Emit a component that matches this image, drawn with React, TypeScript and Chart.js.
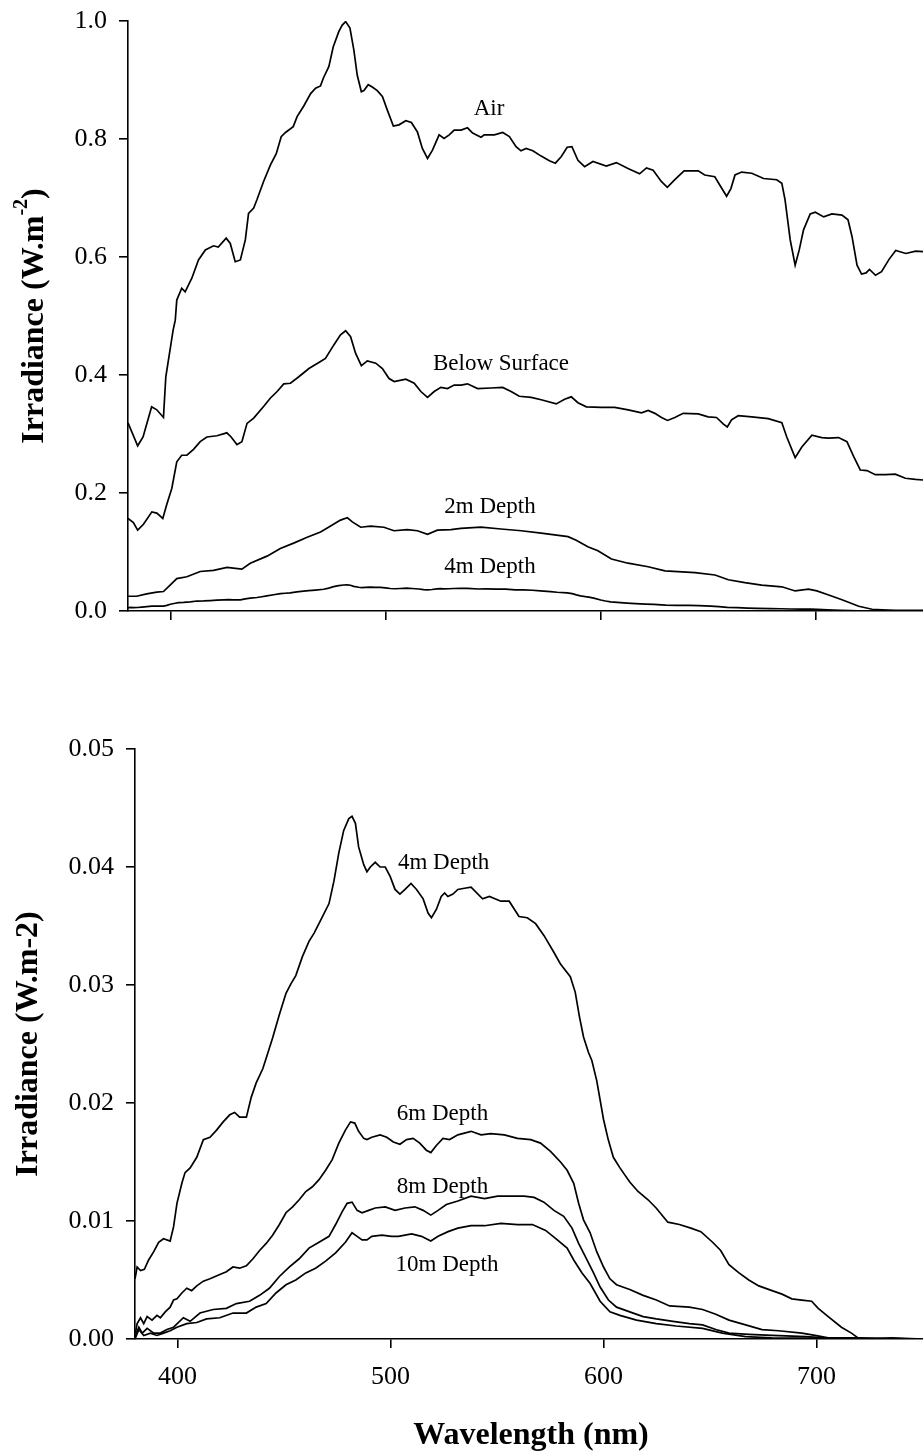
import React, { useEffect, useRef } from 'react';
import { Chart, registerables } from 'chart.js';

Chart.register(...registerables);

const FONT = '"Liberation Serif", "Times New Roman", Times, serif';

// ---------- data (wavelength nm, irradiance W.m-2) ----------
const airSpectrum: [number, number][] = [
  [380, 0.319], [384.5, 0.28], [387, 0.295], [391, 0.346], [393.4, 0.341], [396.5, 0.328], [397.6, 0.397],
  [401, 0.476], [402, 0.493], [402.7, 0.527], [405, 0.547], [406.6, 0.541], [409.7, 0.564], [412.8, 0.595],
  [416, 0.612], [419.8, 0.619], [422, 0.617], [425.7, 0.632], [427.6, 0.623], [429.9, 0.592], [432.3, 0.595],
  [434.6, 0.629], [436.1, 0.674], [438.5, 0.683], [440, 0.697], [443.1, 0.728], [446.3, 0.756], [449, 0.775],
  [451.3, 0.804], [453.3, 0.811], [456.9, 0.821], [458.7, 0.838], [461.8, 0.856], [465, 0.877], [467.3, 0.886],
  [469.6, 0.89], [470.9, 0.903], [473.5, 0.923], [475.5, 0.956], [478.1, 0.982], [479.7, 0.993], [481.3, 0.999],
  [483.3, 0.988], [485.1, 0.951], [486.7, 0.908], [488.6, 0.88], [489.8, 0.882], [491.8, 0.892], [493.7, 0.888],
  [496, 0.882], [498.4, 0.872], [500.7, 0.849], [503.5, 0.822], [506.1, 0.824], [509.3, 0.831], [511.9, 0.828],
  [514.7, 0.812], [517, 0.784], [519.4, 0.767], [521.7, 0.781], [524.8, 0.807], [527.1, 0.801], [529.5, 0.807],
  [531.8, 0.815], [535, 0.815], [538, 0.819], [540.4, 0.81], [544.3, 0.803], [545.8, 0.807], [550.5, 0.807],
  [554.4, 0.811], [557.5, 0.804], [560.6, 0.787], [562.9, 0.78], [565.3, 0.784], [568.4, 0.78], [572.3, 0.771],
  [576.1, 0.763], [578.9, 0.759], [581.6, 0.77], [584.4, 0.786], [586.6, 0.787], [589.4, 0.764], [592.5, 0.753],
  [596.4, 0.762], [602.6, 0.754], [607.3, 0.76], [612.7, 0.75], [618.1, 0.741], [621.3, 0.751], [624.4, 0.747],
  [628.2, 0.728], [631, 0.718], [634.5, 0.731], [638.8, 0.746], [645.4, 0.746], [648.4, 0.739], [653.1, 0.736],
  [655.4, 0.722], [658.6, 0.703], [660.6, 0.716], [662.5, 0.739], [665.6, 0.744], [670.3, 0.742], [675.8, 0.733],
  [681.9, 0.731], [684.3, 0.725], [685.8, 0.697], [688.2, 0.629], [690.5, 0.586], [692.4, 0.612], [694.4, 0.646],
  [697.5, 0.673], [699.9, 0.676], [703.8, 0.668], [707.6, 0.673], [712.3, 0.671], [715.1, 0.663], [717, 0.634],
  [719.3, 0.586], [721.4, 0.571], [723.5, 0.573], [725.1, 0.579], [727.9, 0.569], [730.7, 0.575], [734.2, 0.596],
  [737.3, 0.611], [742, 0.606], [746.6, 0.61], [750, 0.609],
];

const belowSurfaceSpectrum: [number, number][] = [
  [380, 0.157], [382.5, 0.15], [384.5, 0.137], [387.2, 0.147], [391.1, 0.168], [393.4, 0.166], [396.2, 0.157],
  [398, 0.18], [400.4, 0.208], [402.7, 0.253], [405, 0.264], [407.4, 0.264], [410.5, 0.274], [413.6, 0.287],
  [416.7, 0.295], [421.4, 0.297], [426, 0.302], [428, 0.295], [430.7, 0.282], [433, 0.287], [435.4, 0.318],
  [438.5, 0.327], [443.2, 0.347], [446.3, 0.361], [449.4, 0.372], [452.5, 0.385], [455.6, 0.386], [459.5, 0.397],
  [464.2, 0.411], [469.6, 0.423], [471.9, 0.428], [475.8, 0.451], [478.9, 0.468], [481.3, 0.475], [483.6, 0.465],
  [485.9, 0.437], [488.6, 0.416], [491.4, 0.424], [495.3, 0.42], [498.4, 0.411], [501.5, 0.394], [503.9, 0.389],
  [509.3, 0.393], [513.2, 0.386], [516.3, 0.372], [519.4, 0.362], [522.5, 0.372], [525.6, 0.379], [528.7, 0.377],
  [531.8, 0.383], [535, 0.383], [538, 0.385], [542.7, 0.377], [548.9, 0.378], [554.4, 0.379], [558.3, 0.372],
  [562.1, 0.364], [567.6, 0.362], [572.3, 0.358], [579.3, 0.351], [583.2, 0.359], [586.3, 0.363], [589.4, 0.353],
  [593.3, 0.346], [600.3, 0.345], [606.5, 0.345], [612.8, 0.341], [619, 0.336], [622.1, 0.34], [625.2, 0.335],
  [628.3, 0.328], [631.1, 0.323], [634.5, 0.328], [638.4, 0.335], [645.4, 0.334], [650, 0.329], [653.9, 0.328],
  [657, 0.317], [658.9, 0.312], [660.9, 0.324], [664, 0.331], [670.3, 0.329], [678, 0.326], [684.3, 0.319],
  [686.6, 0.295], [690.5, 0.26], [693.6, 0.278], [698.3, 0.298], [702.9, 0.294], [706, 0.293], [710.7, 0.294],
  [714.6, 0.287], [717.7, 0.262], [720.8, 0.239], [723.9, 0.238], [727.8, 0.231], [732.5, 0.231], [737.1, 0.232],
  [741.8, 0.225], [746.5, 0.223], [750, 0.222],
];

const depth2mSpectrum: [number, number][] = [
  [380, 0.025], [384, 0.025], [388.7, 0.029], [393.4, 0.032], [396.5, 0.033], [399.6, 0.044], [402.7, 0.055],
  [407.4, 0.058], [413.6, 0.067], [419.8, 0.069], [426.1, 0.074], [433, 0.071], [436.9, 0.081], [444.7, 0.093],
  [450.9, 0.106], [457.1, 0.115], [463.4, 0.125], [469.6, 0.134], [474.3, 0.144], [478.9, 0.154], [482.1, 0.158],
  [484.4, 0.151], [488.3, 0.142], [492.9, 0.144], [499.1, 0.142], [503.8, 0.136], [510, 0.138], [514.7, 0.136],
  [519.4, 0.13], [524, 0.137], [530.3, 0.138], [534.9, 0.14], [544.3, 0.142], [553.6, 0.139], [563, 0.136],
  [572.3, 0.132], [584.8, 0.126], [588.6, 0.12], [594, 0.109], [598.7, 0.102], [605, 0.088], [612.7, 0.081],
  [622.1, 0.075], [629.9, 0.068], [643.9, 0.065], [653.2, 0.061], [659.4, 0.053], [667.1, 0.048], [674.9, 0.044],
  [684.3, 0.041], [690.5, 0.034], [696.7, 0.037], [700.6, 0.034], [706.1, 0.027], [712.3, 0.019], [720.1, 0.008],
  [726.3, 0.003], [731, 0.002], [737.2, 0.001], [750, 0.001],
];

const depth4mSpectrum: [number, number][] = [
  [380, 0.0051], [381, 0.0061], [382.6, 0.0058], [384.4, 0.0059], [386.4, 0.0067], [388.8, 0.0074], [391.1, 0.0082],
  [393.4, 0.0085], [396.5, 0.0083], [398.1, 0.0095], [399.7, 0.0115], [402, 0.0132], [403.5, 0.0141], [405.9, 0.0145],
  [409, 0.0154], [412.1, 0.0169], [415.2, 0.0171], [418.3, 0.0177], [421.4, 0.0184], [424.5, 0.019], [426.8, 0.0192],
  [429.1, 0.0188], [432.3, 0.0188], [434.6, 0.0205], [436.9, 0.0217], [440, 0.0229], [442.3, 0.0242], [444.6, 0.0255],
  [447.8, 0.0275], [450.9, 0.0293], [453.2, 0.0301], [455.5, 0.0308], [458.6, 0.0324], [461.7, 0.0337], [464.1, 0.0344],
  [467.2, 0.0355], [471.1, 0.0369], [473.4, 0.0388], [475.7, 0.0412], [478, 0.0431], [480.4, 0.0441], [481.9, 0.0443],
  [483.5, 0.0437], [485, 0.0417], [487.4, 0.0402], [488.9, 0.0396], [490.5, 0.04], [492.8, 0.0404], [495.1, 0.04],
  [497.5, 0.04], [499.8, 0.0392], [502.1, 0.0381], [504.4, 0.0377], [506.8, 0.0381], [509.6, 0.0386], [512.2, 0.0381],
  [515.3, 0.0373], [517.6, 0.0361], [519.2, 0.0357], [521.5, 0.0364], [523.8, 0.0375], [525.4, 0.0378], [526.9, 0.0375],
  [529.3, 0.0377], [531.6, 0.0381], [534.7, 0.0382], [537.8, 0.0383], [543.2, 0.0373], [546.4, 0.0375], [551.8, 0.0371],
  [555.7, 0.0371], [560.3, 0.0358], [564.2, 0.0357], [568.1, 0.0352], [572, 0.0342], [576.6, 0.0328], [579.7, 0.0318],
  [584.4, 0.0307], [586.7, 0.0294], [588.7, 0.0273], [590.6, 0.0256], [592.9, 0.0243], [594.5, 0.0236], [596.8, 0.0219],
  [600, 0.0186], [602.2, 0.0169], [604.6, 0.0154], [607.7, 0.0145], [612.3, 0.0133], [616.2, 0.0125], [620.9, 0.0118],
  [624.7, 0.0111], [630.2, 0.0099], [635.6, 0.0097], [641, 0.0094], [645.7, 0.0091], [651.2, 0.0082], [655, 0.0075],
  [658.9, 0.0063], [663.6, 0.0056], [668.2, 0.005], [672.9, 0.0045], [679.1, 0.0041], [683.8, 0.0038], [688.4, 0.0034],
  [693.1, 0.0033], [697.7, 0.0032], [700.8, 0.0026], [705.5, 0.0019], [711.7, 0.001], [716.4, 0.0005], [719.5, 0.0001],
  [725.7, 0], [735, 0.0001], [750, 0],
];

const depth6mSpectrum: [number, number][] = [
  [380.2, 0.0005], [381, 0.0013], [382.6, 0.0018], [384.1, 0.0013], [385.7, 0.0019], [388, 0.0016], [390.3, 0.002],
  [391.9, 0.0018], [394.2, 0.0023], [396.5, 0.0027], [398.1, 0.0033], [399.7, 0.0034], [402, 0.0039], [404.3, 0.0043],
  [406.6, 0.0041], [409, 0.0045], [412.1, 0.0049], [415.2, 0.0051], [419, 0.0054], [422.9, 0.0057], [426, 0.0061],
  [429.1, 0.006], [432.3, 0.0062], [435.4, 0.0068], [438.5, 0.0075], [441.6, 0.0081], [444.6, 0.0088], [447.8, 0.0097],
  [450.9, 0.0107], [454, 0.0112], [457.1, 0.0118], [460.2, 0.0125], [463.3, 0.0129], [466.4, 0.0135], [469.5, 0.0143],
  [472.6, 0.0152], [475.7, 0.0166], [478.8, 0.0177], [481.2, 0.0184], [483.2, 0.0183], [485, 0.0176], [487.4, 0.017],
  [488.9, 0.0169], [491.2, 0.0171], [495.1, 0.0173], [498.2, 0.0171], [501.3, 0.0167], [504.4, 0.0165], [507.5, 0.0169],
  [510.6, 0.017], [513.7, 0.0166], [516.8, 0.016], [518.9, 0.0158], [521.5, 0.0164], [524.6, 0.017], [527.7, 0.0169],
  [531.6, 0.0173], [537.8, 0.0176], [542.5, 0.0173], [547.1, 0.0174], [553.4, 0.0173], [559.6, 0.017], [565.8, 0.0169],
  [570.4, 0.0166], [575.1, 0.0159], [579.8, 0.015], [582.9, 0.0143], [586, 0.0132], [588.3, 0.0115], [590.6, 0.0101],
  [593.7, 0.009], [596.8, 0.0074], [600, 0.0061], [603, 0.0051], [606.1, 0.0046], [612.3, 0.0042], [618.6, 0.0037],
  [624.8, 0.0033], [631, 0.0028], [640.3, 0.0027], [646.5, 0.0025], [652.7, 0.0021], [658.9, 0.0016], [666.7, 0.0012],
  [674.4, 0.0008], [682.2, 0.0007], [693.1, 0.0005], [699.3, 0.0003], [705.5, 0.0001], [715, 0.0001], [750, 0],
];

const depth8mSpectrum: [number, number][] = [
  [380, 0.0002], [381.8, 0.001], [383.4, 0.0005], [385.7, 0.0009], [388.8, 0.0005], [391.9, 0.0005], [395, 0.0008],
  [398.1, 0.001], [402.7, 0.0018], [405.9, 0.0015], [410.5, 0.0022], [416.7, 0.0025], [422.9, 0.0026], [427.6, 0.003],
  [433.8, 0.0032], [438.5, 0.0037], [443.1, 0.0043], [447.8, 0.0053], [452.4, 0.0061], [457.1, 0.0068], [461.7, 0.0077],
  [466.4, 0.0082], [471.1, 0.0087], [474.2, 0.0097], [477.3, 0.0108], [479.6, 0.0115], [481.9, 0.0116], [484.3, 0.0109],
  [486.6, 0.0107], [489.7, 0.0109], [492.8, 0.0111], [497.5, 0.0112], [502.1, 0.0109], [506.8, 0.0111], [511.4, 0.0112],
  [515.3, 0.0109], [518.9, 0.0105], [522.3, 0.0109], [526.2, 0.0114], [531.6, 0.0117], [537.8, 0.0121], [544.1, 0.0119],
  [550.3, 0.0121], [556.5, 0.0121], [562.7, 0.0121], [567.4, 0.012], [572, 0.0116], [576.7, 0.0109], [581.3, 0.0104],
  [585.2, 0.0094], [588.3, 0.0081], [591.4, 0.007], [595.3, 0.0056], [598.4, 0.0044], [602.3, 0.0033], [606.1, 0.0027],
  [612.3, 0.0023], [618.6, 0.0019], [624.8, 0.0017], [632.6, 0.0015], [640.3, 0.0013], [646.5, 0.0012], [652.7, 0.0008],
  [658.9, 0.0005], [668.2, 0.0004], [679.1, 0.0003], [695, 0.0002], [704, 0.0001], [750, 0],
];

const depth10mSpectrum: [number, number][] = [
  [380, 0], [381.8, 0.0008], [384.1, 0.0003], [387.2, 0.0005], [390.3, 0.0003], [393.4, 0.0005], [396.5, 0.0007],
  [399.7, 0.001], [404.3, 0.0013], [409, 0.0014], [413.6, 0.0017], [419.8, 0.0018], [426, 0.0022], [432.3, 0.0022],
  [436.9, 0.0027], [441.6, 0.003], [446.2, 0.0039], [450.9, 0.0046], [455.5, 0.005], [460.2, 0.0056], [464.8, 0.006],
  [469.5, 0.0066], [474.2, 0.0073], [478.8, 0.0082], [481.9, 0.009], [484.3, 0.0087], [486.6, 0.0084], [488.9, 0.0084],
  [491.2, 0.0087], [495.9, 0.0088], [500.5, 0.0087], [503.7, 0.0087], [509.9, 0.0089], [514.5, 0.0087], [518.9, 0.0083],
  [522.3, 0.0087], [527, 0.0091], [531.6, 0.0094], [537.8, 0.0096], [544.1, 0.0096], [551.8, 0.0098], [559.6, 0.0097],
  [566.6, 0.0097], [572.8, 0.0092], [578.3, 0.0084], [582.9, 0.0077], [586, 0.0067], [589.9, 0.0056], [593.7, 0.0047],
  [598.4, 0.0032], [603, 0.0023], [607.7, 0.002], [615.5, 0.0016], [624.8, 0.0013], [634.1, 0.0011], [646.5, 0.0009],
  [655.8, 0.0005], [666.7, 0.0002], [679, 0.0001], [750, 0],
];

// ---------- curve labels (text, wavelength, irradiance at baseline) ----------
type CurveLabel = { text: string; nm: number; val: number };
const topCurveLabels: CurveLabel[] = [
  { text: 'Air', nm: 548, val: 0.841 },
  { text: 'Below Surface', nm: 553.6, val: 0.408 },
  { text: '2m Depth', nm: 548.5, val: 0.166 },
  { text: '4m Depth', nm: 548.5, val: 0.064 },
];
const bottomCurveLabels: CurveLabel[] = [
  { text: '4m Depth', nm: 524.9, val: 0.0398 },
  { text: '6m Depth', nm: 524.4, val: 0.0186 },
  { text: '8m Depth', nm: 524.4, val: 0.0124 },
  { text: '10m Depth', nm: 526.5, val: 0.0058 },
];

const wavelengthRange = [380, 750];
const topYRange = [0, 1.0];
const bottomYRange = [0, 0.05];

const toPoints = (arr: [number, number][]) => arr.map(([x, y]) => ({ x, y }));

const lineDs = (arr: [number, number][]) => ({
  data: toPoints(arr),
  borderColor: '#000',
  borderWidth: 1.7,
  pointRadius: 0,
  tension: 0,
  fill: false,
});

type TitleSpec = {
  yTitleX: number;
  yTitleSup: boolean;
  xTitle?: { x: number; y: number };
};

function makePlugin(labels: CurveLabel[], spec: TitleSpec) {
  return {
    id: 'customText',
    afterDraw(chart: any) {
      const { ctx, chartArea } = chart;
      const xs = chart.scales.x;
      const ys = chart.scales.y;
      ctx.save();
      ctx.fillStyle = '#000';
      ctx.font = `23px ${FONT}`;
      ctx.textAlign = 'center';
      ctx.textBaseline = 'alphabetic';
      labels.forEach((l) => {
        ctx.fillText(l.text, xs.getPixelForValue(l.nm), ys.getPixelForValue(l.val));
      });
      ctx.restore();

      // y title
      ctx.save();
      ctx.fillStyle = '#000';
      const cy = (chartArea.top + chartArea.bottom) / 2;
      ctx.translate(spec.yTitleX, cy);
      ctx.rotate(-Math.PI / 2);
      ctx.textBaseline = 'alphabetic';
      ctx.textAlign = 'left';
      const main = `bold 32px ${FONT}`;
      const sup = `bold 20px ${FONT}`;
      if (spec.yTitleSup) {
        const a = 'Irradiance (W.m';
        const s = '-2';
        const b = ')';
        ctx.font = main;
        const wa = ctx.measureText(a).width;
        const wb = ctx.measureText(b).width;
        ctx.font = sup;
        const ws = ctx.measureText(s).width;
        const start = -(wa + ws + wb) / 2;
        ctx.font = main;
        ctx.fillText(a, start, 0);
        ctx.font = sup;
        ctx.fillText(s, start + wa, -16);
        ctx.font = main;
        ctx.fillText(b, start + wa + ws, 0);
      } else {
        ctx.font = main;
        ctx.textAlign = 'center';
        ctx.fillText('Irradiance (W.m-2)', 0, 0);
      }
      ctx.restore();

      if (spec.xTitle) {
        ctx.save();
        ctx.fillStyle = '#000';
        ctx.font = main;
        ctx.textAlign = 'center';
        ctx.textBaseline = 'alphabetic';
        ctx.fillText('Wavelength (nm)', spec.xTitle.x, spec.xTitle.y);
        ctx.restore();
      }
    },
  };
}

function makeOptions(opts: {
  yMin: number; yMax: number; yStep: number; yDigits: number;
  yWidth: number; xHeight: number; padTop: number; showXLabels: boolean;
}) {
  return {
    responsive: false,
    animation: false as const,
    layout: { padding: { top: opts.padTop, right: 0, left: 0, bottom: 0 } },
    plugins: { legend: { display: false }, tooltip: { enabled: false }, title: { display: false } },
    scales: {
      x: {
        type: 'linear' as const,
        min: wavelengthRange[0],
        max: wavelengthRange[1],
        border: { display: true, color: '#000', width: 1.6 },
        grid: { display: true, drawOnChartArea: false, drawTicks: true, tickLength: 9, color: '#000', lineWidth: 1.6 },
        ticks: {
          display: opts.showXLabels,
          stepSize: 100,
          includeBounds: false,
          color: '#000',
          padding: 14,
          maxRotation: 0,
          font: { family: FONT, size: 26 },
          callback: (v: any) => String(v),
        },
        afterFit: (axis: any) => { axis.height = opts.xHeight; },
      },
      y: {
        type: 'linear' as const,
        min: opts.yMin,
        max: opts.yMax,
        border: { display: true, color: '#000', width: 1.6 },
        grid: { display: true, drawOnChartArea: false, drawTicks: true, tickLength: 9, color: '#000', lineWidth: 1.6 },
        ticks: {
          stepSize: opts.yStep,
          color: '#000',
          padding: 12,
          font: { family: FONT, size: 26, lineHeight: 0.6 },
          callback: (v: any) => Number(v).toFixed(opts.yDigits),
        },
        afterFit: (axis: any) => { axis.width = opts.yWidth; },
      },
    },
  };
}

export default function App() {
  const topRef = useRef<HTMLCanvasElement>(null);
  const botRef = useRef<HTMLCanvasElement>(null);

  useEffect(() => {
    const top = new Chart(topRef.current as HTMLCanvasElement, {
      type: 'line',
      data: {
        datasets: [
          lineDs(airSpectrum),
          lineDs(belowSurfaceSpectrum),
          lineDs(depth2mSpectrum),
          lineDs(depth4mSpectrum),
        ],
      },
      options: makeOptions({
        yMin: topYRange[0], yMax: topYRange[1], yStep: 0.2, yDigits: 1,
        yWidth: 128, xHeight: 49, padTop: 21, showXLabels: false,
      }) as any,
      plugins: [makePlugin(topCurveLabels, { yTitleX: 43, yTitleSup: true })],
    });

    const bottom = new Chart(botRef.current as HTMLCanvasElement, {
      type: 'line',
      data: {
        datasets: [
          lineDs(depth4mSpectrum),
          lineDs(depth6mSpectrum),
          lineDs(depth8mSpectrum),
          lineDs(depth10mSpectrum),
        ],
      },
      options: makeOptions({
        yMin: bottomYRange[0], yMax: bottomYRange[1], yStep: 0.01, yDigits: 2,
        yWidth: 135, xHeight: 115, padTop: 49, showXLabels: true,
      }) as any,
      plugins: [makePlugin(bottomCurveLabels, { yTitleX: 37, yTitleSup: false, xTitle: { x: 531, y: 744 } })],
    });

    return () => {
      top.destroy();
      bottom.destroy();
    };
  }, []);

  return (
    <div style={{ position: 'absolute', left: 0, top: 0, width: 923, height: 1454, background: '#fff' }}>
      <canvas ref={topRef} width={923} height={660} style={{ position: 'absolute', left: 0, top: 0 }} />
      <canvas ref={botRef} width={923} height={754} style={{ position: 'absolute', left: 0, top: 700 }} />
    </div>
  );
}
